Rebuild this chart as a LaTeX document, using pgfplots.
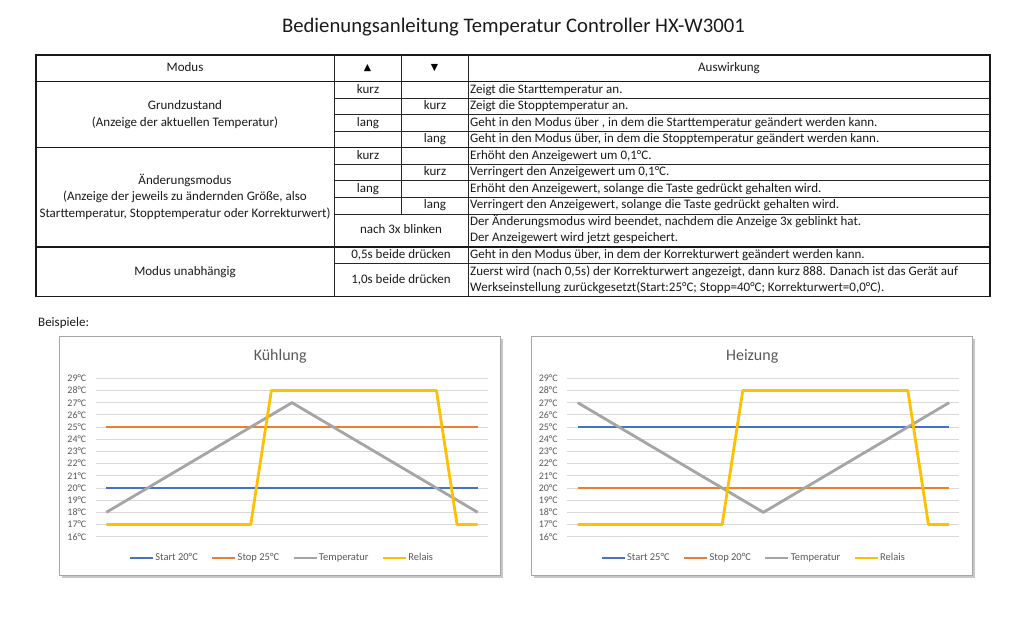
\documentclass[border=0pt]{standalone}
\usepackage{pgfplots}
\pgfplotsset{compat=1.18}
\usepackage{fontspec}
\setmainfont{Carlito}
\newfontfamily\dejavu{DejaVu Sans}
\definecolor{cblue}{HTML}{4472C4}
\definecolor{corange}{HTML}{ED7D31}
\definecolor{cgray}{HTML}{A5A5A5}
\definecolor{cgold}{HTML}{FFC000}
\definecolor{cgrid}{HTML}{D9D9D9}
\definecolor{ctick}{HTML}{595959}
\definecolor{ctxt}{HTML}{1A1A1A}
\newcommand{\fs}[1]{\fontsize{#1}{#1}\selectfont}
\pgfplotsset{
  cstyle/.style={
    width=392pt, height=158.4pt, scale only axis, anchor=south west,
    xmin=-0.5, xmax=18.5, ymin=16, ymax=29, clip=false,
    axis line style={draw=none}, xtick=\empty, ytick={16,...,29},
    ymajorgrids, grid style={color=cgrid, line width=0.8pt},
    major tick length=0pt,
    /pgf/number format/assume math mode=true,
    yticklabel={\pgfmathprintnumber{\tick}°C},
    yticklabel style={font=\fs{10}, text=ctick, inner sep=0pt, xshift=-9.5pt},
    every axis plot/.append style={line width=2.8pt, line join=round},
    legend columns=4,
    legend style={anchor=center, draw=none, fill=none, font=\fs{10.5}, text=ctick,
      inner sep=0pt, nodes={inner sep=1pt},
      /tikz/every even column/.append style={column sep=12pt}},
    legend image code/.code={\draw[#1] (0pt,0pt) -- (23pt,0pt);},
  }
}
\begin{document}
\begin{tikzpicture}[x=1pt,y=-1pt]
\useasboundingbox (0,0) rectangle (1024,630);
\fill[white] (0,0) rectangle (1024,630);
\node[font=\fs{20.7}, text=ctxt] at (513.4,27) {Bedienungsanleitung Temperatur Controller HX-W3001};
% ---- table ----
\tikzset{tline/.style={line width=0.7pt, draw=black!85}, gline/.style={line width=1.2pt, draw=black!90},
  tab/.style={font=\fs{13}, text=ctxt, inner sep=0pt, text height=9.2pt, text depth=2.7pt}}
\draw[gline] (36,55) rectangle (990,296.65);
\draw[gline] (36,81.5) -- (990,81.5);
\draw[gline] (36,147.7) -- (990,147.7);
\draw[gline] (36,247) -- (990,247);
\draw[tline] (334,55) -- (334,296.65);
\draw[tline] (468,55) -- (468,296.65);
\draw[tline] (401,55) -- (401,213.9);
\foreach \yy in {98.05,114.6,131.15,164.25,180.8,197.35,213.9,263.55}
  \draw[tline] (334,\yy) -- (990,\yy);
% header
\node[tab] at (185,68) {Modus};
\node[font=\dejavu\fs{9.5}, inner sep=0pt] at (367.5,68) {▲};
\node[font=\dejavu\fs{9.5}, inner sep=0pt] at (434.5,68) {▼};
\node[tab] at (729,68) {Auswirkung};
% left column
\node[tab] at (185,106.3) {Grundzustand};
\node[tab] at (185,122.9) {(Anzeige der aktuellen Temperatur)};
\node[tab] at (185,181) {Änderungsmodus};
\node[tab] at (185,197.4) {(Anzeige der jeweils zu ändernden Größe, also};
\node[tab] at (185,213.9) {Starttemperatur, Stopptemperatur oder Korrekturwert)};
\node[tab] at (185,271.8) {Modus unabhängig};
% key columns
\node[tab] at (368,89.775) {kurz};
\node[tab] at (435,106.325) {kurz};
\node[tab] at (368,122.875) {lang};
\node[tab] at (435,139.425) {lang};
\node[tab] at (368,155.975) {kurz};
\node[tab] at (435,172.525) {kurz};
\node[tab] at (368,189.075) {lang};
\node[tab] at (435,205.625) {lang};
\node[tab] at (401,230.45) {nach 3x blinken};
\node[tab] at (401,255.275) {0,5s beide drücken};
\node[tab] at (401,280.1) {1,0s beide drücken};
% descriptions
\tikzset{desc/.style={tab, anchor=west}}
\node[desc] at (470,89.775) {Zeigt die Starttemperatur an.};
\node[desc] at (470,106.325) {Zeigt die Stopptemperatur an.};
\node[desc] at (470,122.875) {Geht in den Modus über , in dem die Starttemperatur geändert werden kann.};
\node[desc] at (470,139.425) {Geht in den Modus über, in dem die Stopptemperatur geändert werden kann.};
\node[desc] at (470,155.975) {Erhöht den Anzeigewert um 0,1°C.};
\node[desc] at (470,172.525) {Verringert den Anzeigewert um 0,1°C.};
\node[desc] at (470,189.075) {Erhöht den Anzeigewert, solange die Taste gedrückt gehalten wird.};
\node[desc] at (470,205.625) {Verringert den Anzeigewert, solange die Taste gedrückt gehalten wird.};
\node[desc] at (470,222.175) {Der Änderungsmodus wird beendet, nachdem die Anzeige 3x geblinkt hat.};
\node[desc] at (470,238.725) {Der Anzeigewert wird jetzt gespeichert.};
\node[desc] at (470,255.275) {Geht in den Modus über, in dem der Korrekturwert geändert werden kann.};
\node[desc] at (470,271.825) {Zuerst wird (nach 0,5s) der Korrekturwert angezeigt, dann kurz 888. Danach ist das Gerät auf};
\node[desc] at (470,288.375) {Werkseinstellung zurückgesetzt(Start:25°C; Stopp=40°C; Korrekturwert=0,0°C).};
% ---- examples ----
\node[tab, anchor=west] at (38,323) {Beispiele:};
\fill[black!22] (61.8,338.5) rectangle (503.2,577.5);
\filldraw[fill=white, draw=black!35, line width=0.8pt] (59.3,336) rectangle (500.7,575);
\fill[black!22] (534.2,338.5) rectangle (975.2,578.2);
\filldraw[fill=white, draw=black!35, line width=0.8pt] (531.7,336) rectangle (972.7,575.7);
\node[font=\fs{16}, text=ctick] at (280.2,356) {Kühlung};
\node[font=\fs{16}, text=ctick] at (752.2,356) {Heizung};
\begin{scope}[x={(1cm,0cm)}, y={(0cm,1cm)}]
\begin{axis}[cstyle, at={(96pt,-536.7pt)}, legend style={at={(0.4727,-0.1345)}}]
\addplot[cblue] coordinates {(0,20) (18,20)};
\addplot[corange] coordinates {(0,25) (18,25)};
\addplot[cgray] coordinates {(0,18) (9,27) (18,18)};
\addplot[cgold] coordinates {(0,17) (7,17) (8,28) (16,28) (17,17) (18,17)};
\legend{Start 20°C, Stop 25°C, Temperatur, Relais}
\end{axis}
\begin{axis}[cstyle, at={(567.4pt,-536.7pt)}, legend style={at={(0.4737,-0.1345)}}]
\addplot[cblue] coordinates {(0,25) (18,25)};
\addplot[corange] coordinates {(0,20) (18,20)};
\addplot[cgray] coordinates {(0,27) (9,18) (18,27)};
\addplot[cgold] coordinates {(0,17) (7,17) (8,28) (16,28) (17,17) (18,17)};
\legend{Start 25°C, Stop 20°C, Temperatur, Relais}
\end{axis}
\end{scope}
\end{tikzpicture}
\end{document}
